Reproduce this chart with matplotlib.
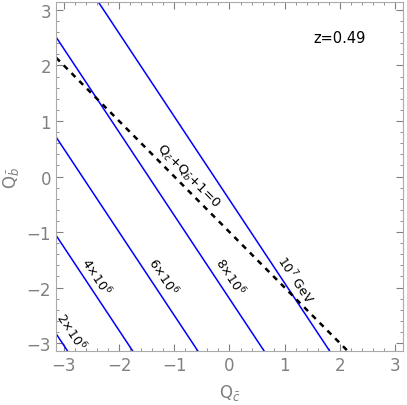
import numpy as np
import matplotlib.pyplot as plt
from matplotlib.ticker import MultipleLocator

# contour levels (GeV) and their intercepts: Q_b = slope * Q_c + intercept
levels = [2e6, 4e6, 6e6, 8e6, 1e7]
intercepts = [-7.54, -5.77, -4.0, -2.2, -0.42]
slope = -1.5
level_labels = [r'2$\times$10$^6$', r'4$\times$10$^6$', r'6$\times$10$^6$',
                r'8$\times$10$^6$', r'10$^7$ GeV']
label_pos = [(-2.87, -2.77), (-2.41, -1.79), (-1.2, -1.79), (0.01, -1.79), (1.2, -1.84)]

# dashed line Q_c + Q_b + 1 = 0
dash_slope = -1.0
dash_intercept = -1.0

lim = np.pi
grey = '#808080'

fig = plt.figure(figsize=(4.07, 4.06), dpi=100)
ax = fig.add_axes([0.1376, 0.133, 0.8524, 0.8596])

for c in intercepts:
    ax.axline((0, c), slope=slope, color='blue', lw=1.1)
ax.axline((0, dash_intercept), slope=dash_slope, color='black', lw=1.8,
          ls=(0, (2.2, 2.2)))

ax.set_xlim(-lim, lim)
ax.set_ylim(-lim, lim)

# rotation in screen space
ang = np.degrees(np.arctan(slope))
for txt, (x, y) in zip(level_labels, label_pos):
    ax.text(x, y, txt, rotation=ang, rotation_mode='anchor', ha='center',
            va='center', fontsize=9, transform_rotates_text=True)
ax.text(-0.75, 0.02, r'Q$_{\bar{c}}$+Q$_{\bar{b}}$+1=0', rotation=-45,
        rotation_mode='anchor', ha='center', va='center', fontsize=9.5,
        transform_rotates_text=True)

ax.text(1.99, 2.5, 'z=0.49', ha='center', va='center', fontsize=10.5)

ax.set_xlabel(r'Q$_{\bar{c}}$', color=grey, fontsize=12, labelpad=6)
ax.set_ylabel(r'Q$_{\bar{b}}$', color=grey, fontsize=12, labelpad=4)

ax.xaxis.set_major_locator(MultipleLocator(1))
ax.yaxis.set_major_locator(MultipleLocator(1))
ax.xaxis.set_minor_locator(MultipleLocator(0.2))
ax.yaxis.set_minor_locator(MultipleLocator(0.2))
ax.tick_params(which='both', direction='in', top=True, right=True,
               color=grey, labelcolor=grey, labelsize=12)
ax.tick_params(which='major', length=5)
ax.tick_params(which='minor', length=2.5)
for s in ax.spines.values():
    s.set_color('#aaaaaa')

plt.savefig('out.png', dpi=100)
